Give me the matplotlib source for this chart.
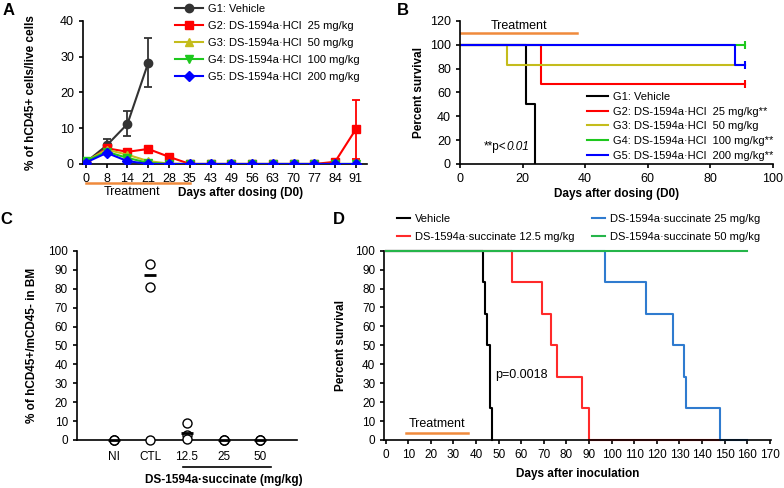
import numpy as np
import matplotlib
matplotlib.use('Agg')
import matplotlib.pyplot as plt
import matplotlib.transforms as mtrans

plt.rcParams['font.family'] = ['Liberation Sans', 'DejaVu Sans']
plt.rcParams['font.size'] = 8.5
plt.rcParams['axes.linewidth'] = 1.2
plt.rcParams['xtick.major.width'] = 1.2
plt.rcParams['ytick.major.width'] = 1.2
plt.rcParams['xtick.major.size'] = 3
plt.rcParams['ytick.major.size'] = 3

# ---- Panel A data: % hCD45+ cells over time
a_days = ['0', '8', '14', '21', '28', '35', '43', '49', '56', '63', '70', '77', '84', '91']
a_g1 = [0.5, 5.2, 11.2, 28.3]
a_g1_err = [0.3, 1.8, 3.5, 6.8]
a_g2 = [0.3, 4.4, 3.4, 4.2, 2.0, 0, 0, 0, 0, 0, 0, 0, 0.6, 9.7]
a_g2_err = [0, 0, 0, 0.3, 0, 0, 0, 0, 0, 0, 0, 0, 0, 8.2]
a_g3 = [0.8, 4.0, 2.6, 0.8, 0.1, 0, 0, 0, 0, 0, 0, 0, 0, 0]
a_g4 = [0.8, 3.4, 1.7, 0.3, 0, 0, 0, 0, 0, 0, 0, 0, 0, 0]
a_g5 = [0.4, 3.1, 0.8, 0, 0, 0, 0, 0, 0, 0, 0, 0, 0, 0]
a_labels = ['G1: Vehicle', 'G2: DS-1594a\u00b7HCl  25 mg/kg', 'G3: DS-1594a\u00b7HCl  50 mg/kg',
            'G4: DS-1594a\u00b7HCl  100 mg/kg', 'G5: DS-1594a\u00b7HCl  200 mg/kg']

# ---- Panel B data: survival after dosing
b_g1_t, b_g1_s = [0, 21, 24], [100, 50, 0]
b_g2_t, b_g2_s = [0, 26, 91], [100, 66.7, 66.7]
b_g3_t, b_g3_s = [0, 15, 91], [100, 83.3, 83.3]
b_g4_t, b_g4_s = [0, 91], [100, 100]
b_g5_t, b_g5_s = [0, 88, 91], [100, 83.3, 83.3]
b_labels = ['G1: Vehicle', 'G2: DS-1594a\u00b7HCl  25 mg/kg**', 'G3: DS-1594a\u00b7HCl  50 mg/kg',
            'G4: DS-1594a\u00b7HCl  100 mg/kg**', 'G5: DS-1594a\u00b7HCl  200 mg/kg**']

# ---- Panel C data: % hCD45+/mCD45- in BM
c_groups = ['NI', 'CTL', '12.5', '25', '50']
c_values = [[0, 0, 0], [93.3, 80.8, 0], [8.8, 2.6, 0.4], [0, 0, 0], [0, 0, 0]]
c_means = [0, 87.1, 3.9, 0, 0]

# ---- Panel D data: survival after inoculation
d_veh_t, d_veh_s = [0, 43, 44, 45, 46, 47], [100, 83.3, 66.7, 50, 16.7, 0]
d_125_t = [0, 56, 69, 73, 76, 87, 90, 148]
d_125_s = [100, 83.3, 66.7, 50, 33.3, 16.7, 0, 0]
d_25_t = [0, 97, 115, 127, 132, 133, 148, 160]
d_25_s = [100, 83.3, 66.7, 50, 33.3, 16.7, 0, 0]
d_50_t, d_50_s = [0, 160], [100, 100]
d_labels = ['Vehicle', 'DS-1594a\u00b7succinate 12.5 mg/kg',
            'DS-1594a\u00b7succinate 25 mg/kg', 'DS-1594a\u00b7succinate 50 mg/kg']

orange = '#f08a3c'
yel = '#c4bc1c'
grn = '#1ec81e'

fig = plt.figure(figsize=(7.84, 4.88), dpi=100)
axA = fig.add_axes([0.1059, 0.664, 0.362, 0.293])
axB = fig.add_axes([0.5867, 0.664, 0.399, 0.293])
axC = fig.add_axes([0.0982, 0.0984, 0.2806, 0.3873])
axD = fig.add_axes([0.4902, 0.0984, 0.4932, 0.3879])
for ax in (axA, axB, axC, axD):
    ax.spines['top'].set_visible(False)
    ax.spines['right'].set_visible(False)

# Panel A
xi = np.arange(len(a_days))
axA.errorbar(xi[:len(a_g1)], a_g1, yerr=a_g1_err, fmt='none', ecolor='#333333', capsize=3,
             elinewidth=1.3, capthick=1.3, zorder=2)
axA.errorbar(xi, a_g2, yerr=a_g2_err, fmt='none', ecolor='red', capsize=3,
             elinewidth=1.3, capthick=1.3, zorder=2)
hA = []
hA += axA.plot(xi[:len(a_g1)], a_g1, color='#333333', marker='o', ms=6, lw=1.5, zorder=3)
hA += axA.plot(xi, a_g2, color='red', marker='s', ms=5.5, lw=1.5, zorder=3)
hA += axA.plot(xi, a_g3, color=yel, marker='^', ms=6, lw=1.5, zorder=4)
hA += axA.plot(xi, a_g4, color=grn, marker='v', ms=6, lw=1.5, zorder=5)
hA += axA.plot(xi, a_g5, color='blue', marker='D', ms=5.5, lw=1.5, zorder=6)
axA.set_xlim(-0.14, 13.53)
axA.set_ylim(0, 40)
axA.set_yticks([0, 10, 20, 30, 40])
axA.set_xticks(xi)
axA.set_xticklabels(a_days, fontsize=9)
axA.tick_params(axis='y', labelsize=9)
axA.set_ylabel('% of hCD45+ cells/live cells', fontweight='bold', fontsize=8.5)
axA.yaxis.set_label_coords(-0.162, 0.5)
tA = mtrans.blended_transform_factory(axA.transData, axA.transAxes)
axA.plot([0, 5], [-0.131, -0.131], color=orange, lw=1.8, transform=tA, clip_on=False)
axA.text(2.2, -0.196, 'Treatment', transform=tA, ha='center', va='center', fontsize=9)
axA.text(0.335, -0.205, 'Days after dosing (D0)', transform=axA.transAxes, ha='left',
         va='center', fontweight='bold', fontsize=8.5)
fig.legend(hA, a_labels, loc='upper left', bbox_to_anchor=(175 / 784, 1 - 4 / 488),
           frameon=False, fontsize=8, handlelength=2.5, handletextpad=0.5, labelspacing=0.62,
           borderpad=0, borderaxespad=0)

# Panel B
axB.step(b_g1_t, b_g1_s, where='post', color='black', lw=1.5, label=b_labels[0])
axB.step(b_g2_t, b_g2_s, where='post', color='red', lw=1.5, label=b_labels[1])
axB.step(b_g3_t, b_g3_s, where='post', color=yel, lw=1.5, label=b_labels[2])
axB.step(b_g4_t, b_g4_s, where='post', color=grn, lw=1.5, label=b_labels[3])
axB.step(b_g5_t, b_g5_s, where='post', color='blue', lw=1.5, label=b_labels[4])
for t, s, c in [(b_g2_t, b_g2_s, 'red'), (b_g4_t, b_g4_s, grn), (b_g5_t, b_g5_s, 'blue')]:
    axB.plot(t[-1], s[-1], marker='|', ms=6, mew=1.5, color=c)
axB.plot([0, 37.5], [109.5, 109.5], color=orange, lw=1.8)
axB.text(19, 116, 'Treatment', ha='center', va='center', fontsize=9)
tp = axB.text(7.5, 14, '**p<', ha='left', va='center', fontsize=8.5)
axB.annotate('0.01', xy=(1, 0), xycoords=tp, va='bottom', ha='left', fontsize=8.5, style='italic')
axB.set_xlim(0, 100)
axB.set_ylim(0, 120)
axB.set_xticks([0, 20, 40, 60, 80, 100])
axB.set_yticks([0, 20, 40, 60, 80, 100, 120])
axB.tick_params(labelsize=9)
axB.set_xlabel('Days after dosing (D0)', fontweight='bold', fontsize=8.5)
axB.xaxis.set_label_coords(0.5, -0.165)
axB.set_ylabel('Percent survival', fontweight='bold', fontsize=8.5)
axB.yaxis.set_label_coords(-0.112, 0.5)
hB, lB = axB.get_legend_handles_labels()
fig.legend(hB, lB, loc='upper left', bbox_to_anchor=(587 / 784, 1 - 92 / 488),
           frameon=False, fontsize=8, handlelength=1.9, handletextpad=0.45, labelspacing=0.42,
           borderpad=0, borderaxespad=0)

# Panel C
for i, vals in enumerate(c_values):
    axC.plot([i + 1] * len(vals), vals, linestyle='none', marker='o', ms=6.5, mfc='white',
             mec='black', mew=1.0, clip_on=False, zorder=3)
    axC.plot(i + 1, c_means[i], marker='_', ms=8, mew=2, color='black', clip_on=False, zorder=4)
axC.set_xlim(0, 6)
axC.set_ylim(0, 100)
axC.set_yticks(np.arange(0, 101, 10))
axC.set_xticks(np.arange(1, 6))
axC.set_xticklabels(c_groups)
axC.tick_params(axis='x', length=0, pad=8)
axC.tick_params(labelsize=8.5)
axC.set_ylabel('% of hCD45+/mCD45- in BM', fontweight='bold', fontsize=8.5)
axC.yaxis.set_label_coords(-0.177, 0.5)
tC = mtrans.blended_transform_factory(axC.transData, axC.transAxes)
axC.plot([2.89, 5.29], [-0.143, -0.143], color='black', lw=1.2, transform=tC, clip_on=False)
axC.text(4.0, -0.212, 'DS-1594a\u00b7succinate (mg/kg)', transform=tC, ha='center', va='center',
         fontweight='bold', fontsize=8.5)

# Panel D
axD.step(d_veh_t, d_veh_s, where='post', color='black', lw=1.5, label=d_labels[0], clip_on=False)
axD.step(d_125_t, d_125_s, where='post', color='#ff2a2a', lw=1.5, label=d_labels[1], clip_on=False)
axD.step(d_25_t, d_25_s, where='post', color='#2f7bcf', lw=1.5, label=d_labels[2], clip_on=False)
axD.step(d_50_t, d_50_s, where='post', color='#25b54a', lw=1.5, label=d_labels[3], clip_on=False)
axD.plot([9, 36.5], [3.5, 3.5], color=orange, lw=1.8)
axD.text(22.7, 8.5, 'Treatment', ha='center', va='center', fontsize=9)
axD.text(48.5, 34.4, 'p=0.0018', ha='left', va='center', fontsize=9)
axD.set_xlim(-0.6, 170.5)
axD.set_ylim(0, 100)
axD.set_xticks(np.arange(0, 171, 10))
axD.set_yticks(np.arange(0, 101, 10))
axD.tick_params(labelsize=8.5)
axD.set_xlabel('Days after inoculation', fontweight='bold', fontsize=8.5)
axD.xaxis.set_label_coords(0.5, -0.15)
axD.set_ylabel('Percent survival', fontweight='bold', fontsize=8.5)
axD.yaxis.set_label_coords(-0.096, 0.5)
hD, lD = axD.get_legend_handles_labels()
fig.legend(hD, lD, loc='upper left', bbox_to_anchor=(397 / 784, 1 - 214 / 488), ncol=2,
           frameon=False, fontsize=8, handlelength=1.2, handletextpad=0.45, labelspacing=0.75,
           columnspacing=1.5, borderpad=0, borderaxespad=0)

# panel letters
for letter, px, py in [('A', 3, 3), ('B', 397, 3), ('C', 0, 212), ('D', 333, 212)]:
    fig.text(px / 784, 1 - py / 488, letter, fontsize=12, fontweight='bold', ha='left', va='top')

fig.savefig('out.png', dpi=100)
